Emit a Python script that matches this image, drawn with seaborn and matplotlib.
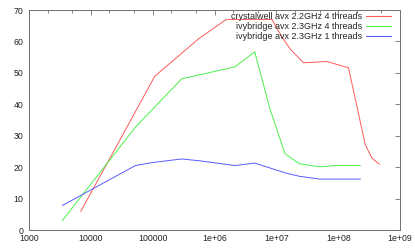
import numpy as np
import pandas as pd
import matplotlib
matplotlib.use('Agg')
import matplotlib.pyplot as plt
import matplotlib.ticker as mticker
import seaborn as sns

# 데이터
crystal_x = [6870, 108000, 550000, 1.55e6, 8.5e6, 1.2e7, 1.67e7, 2.75e7, 6.56e7, 1.47e8, 2.74e8, 3.5e8, 4.66e8]
crystal_y = [5.9, 48.9, 60.8, 67.0, 67.0, 61.8, 57.6, 53.2, 53.6, 51.6, 27.2, 22.9, 20.9]

ivy4_x = [3467, 52480, 295000, 2.14e6, 4.47e6, 7.9e6, 1.38e7, 2.34e7, 5.0e7, 8.5e7, 2.29e8]
ivy4_y = [3.0, 32.7, 48.1, 51.9, 56.7, 38.5, 24.3, 21.1, 20.1, 20.5, 20.5]

ivy1_x = [3467, 52480, 102300, 295000, 589000, 2.14e6, 4.47e6, 1.38e7, 2.34e7, 5.0e7, 2.29e8]
ivy1_y = [7.8, 20.5, 21.5, 22.6, 22.0, 20.5, 21.3, 18.2, 17.1, 16.2, 16.2]

labels = ['crystalwell avx 2.2GHz 4 threads',
          'ivybridge avx 2.3GHz 4 threads',
          'ivybridge avx 2.3GHz 1 threads']
colors = ['#ff5a5a', '#4cf04c', '#5a5aff']

df = pd.concat([
    pd.DataFrame({'x': crystal_x, 'y': crystal_y, 'series': labels[0]}),
    pd.DataFrame({'x': ivy4_x, 'y': ivy4_y, 'series': labels[1]}),
    pd.DataFrame({'x': ivy1_x, 'y': ivy1_y, 'series': labels[2]}),
])

sns.set_style('white')
plt.rcParams['font.family'] = ['Liberation Sans', 'DejaVu Sans']

fig = plt.figure(figsize=(4.15, 2.49), dpi=100)
ax = fig.add_axes([29 / 415, 1 - 230 / 249, 371 / 415, 220 / 249])

sns.lineplot(data=df, x='x', y='y', hue='series', hue_order=labels,
             palette=colors, estimator=None, sort=True, linewidth=0.7, ax=ax)

ax.set_xscale('log')
ax.set_xlim(1000, 1e9)
ax.set_ylim(0, 70)
ax.set_xlabel('')
ax.set_ylabel('')

xt = [1e3, 1e4, 1e5, 1e6, 1e7, 1e8, 1e9]
xl = ['1000', '10000', '100000', '1e+06', '1e+07', '1e+08', '1e+09']
ax.xaxis.set_major_locator(mticker.FixedLocator(xt))
ax.xaxis.set_major_formatter(mticker.FixedFormatter(xl))
ax.xaxis.set_minor_locator(mticker.LogLocator(base=10, subs=[2, 5], numticks=20))
ax.xaxis.set_minor_formatter(mticker.NullFormatter())
ax.set_yticks(range(0, 71, 10))

ax.tick_params(which='both', direction='in', top=True, right=True,
               color='#707070', labelsize=6.3, labelcolor='#222222')
ax.tick_params(which='major', length=3.5, width=0.6)
ax.tick_params(which='minor', length=2, width=0.6)
ax.tick_params(axis='y', pad=4)
ax.tick_params(axis='x', pad=3)

for s in ax.spines.values():
    s.set_color('#707070')
    s.set_linewidth(0.7)

# markerfirst=False 이면 텍스트가 오른쪽 정렬됨
leg = ax.legend(loc='upper right', bbox_to_anchor=(1.0 - 9 / 371, 1.0 - 2 / 220),
                frameon=False, fontsize=6.5, markerfirst=False,
                handlelength=2.8, handletextpad=0.35, labelspacing=0.1,
                borderpad=0.0, borderaxespad=0.0)
for line, c in zip(leg.get_lines(), colors):
    line.set_linewidth(0.8)
    line.set_color(c)

fig.savefig('out.png', dpi=100)
